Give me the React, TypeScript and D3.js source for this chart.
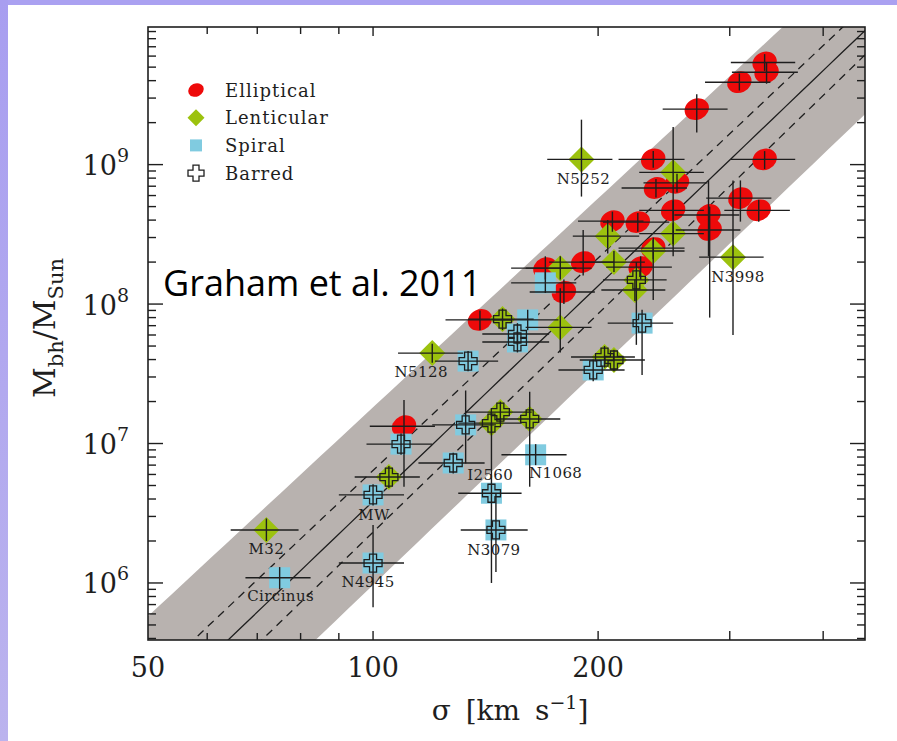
import React from 'react';
import * as d3 from 'd3';

const WIDTH = 897;
const HEIGHT = 741;

// Each galaxy: [sigma (km/s), sigma error, M_bh, M_bh lower, M_bh upper, barred, name]
type Galaxy = [number, number, number, number, number, boolean, string];

const ellipticals: Galaxy[] = [
  [334, 33, 5.4e9, 4.7e9, 6.2e9, false, ''],
  [336, 34, 4.6e9, 3.8e9, 5.4e9, false, ''],
  [309, 31, 3.9e9, 3.4e9, 4.5e9, false, ''],
  [271, 27, 2.5e9, 1.7e9, 3.2e9, false, ''],
  [237, 24, 1.09e9, 0.95e9, 1.25e9, false, ''],
  [334, 33, 1.09e9, 0.93e9, 1.25e9, false, ''],
  [255, 25, 7.4e8, 6.3e8, 8.6e8, false, ''],
  [239, 24, 6.8e8, 5.8e8, 7.9e8, false, ''],
  [252, 25, 4.7e8, 4.0e8, 5.5e8, false, ''],
  [310, 31, 5.75e8, 3.9e8, 7.7e8, false, ''],
  [328, 33, 4.7e8, 3.9e8, 5.6e8, false, ''],
  [281, 28, 4.35e8, 2.2e8, 7.7e8, false, ''],
  [282, 28, 3.4e8, 0.8e8, 5.0e8, false, ''],
  [209, 21, 3.93e8, 3.3e8, 4.6e8, false, ''],
  [226, 23, 3.87e8, 3.3e8, 4.5e8, false, ''],
  [237, 24, 2.52e8, 2.1e8, 3.0e8, false, ''],
  [228, 23, 1.84e8, 1.5e8, 2.2e8, false, ''],
  [191, 19, 2.0e8, 1.6e8, 3.4e8, false, ''],
  [170, 17, 1.81e8, 1.5e8, 2.2e8, false, ''],
  [180, 18, 1.22e8, 1.0e8, 1.5e8, false, ''],
  [139, 14, 7.7e7, 6.5e7, 9.0e7, false, ''],
  [110, 11, 1.33e7, 4.9e6, 2.05e7, false, ''],
];

const lenticulars: Galaxy[] = [
  [72, 7.5, 2.4e6, 2.0e6, 2.9e6, false, 'M32'],
  [120, 12, 4.45e7, 3.8e7, 5.2e7, false, 'N5128'],
  [190, 19, 1.09e9, 5.9e8, 2.1e9, false, 'N5252'],
  [303, 30, 2.17e8, 6.0e7, 7.7e8, false, 'N3998'],
  [252, 25, 8.8e8, 2.2e8, 1.86e9, false, ''],
  [252, 25, 3.2e8, 2.7e8, 3.8e8, false, ''],
  [206, 21, 3.07e8, 2.3e8, 4.0e8, false, ''],
  [210, 21, 2.0e8, 1.7e8, 2.4e8, false, ''],
  [237, 24, 2.4e8, 1.07e8, 2.9e8, false, ''],
  [224, 22, 1.26e8, 1.05e8, 1.5e8, false, ''],
  [225, 22, 1.49e8, 5.1e7, 2.0e8, true, ''],
  [178, 18, 1.81e8, 1.5e8, 2.2e8, false, ''],
  [178, 18, 6.8e7, 4.5e7, 1.3e8, false, ''],
  [149, 15, 7.8e7, 6.5e7, 9.3e7, true, ''],
  [105, 10.5, 5.75e6, 4.8e6, 6.9e6, true, ''],
  [148, 15, 1.68e7, 1.4e7, 2.0e7, true, ''],
  [144, 14, 1.4e7, 1.17e7, 1.68e7, true, ''],
  [162, 16, 1.5e7, 4.9e6, 2.35e7, true, ''],
  [204, 20, 4.17e7, 3.5e7, 5.0e7, true, ''],
  [210, 21, 3.97e7, 3.3e7, 4.7e7, true, ''],
];

const spirals: Galaxy[] = [
  [75, 7.5, 1.09e6, 0.9e6, 1.3e6, false, 'Circinus'],
  [100, 10, 1.39e6, 6.7e5, 2.6e6, true, 'N4945'],
  [100, 10, 4.28e6, 3.6e6, 5.1e6, true, 'MW'],
  [109, 11, 9.9e6, 8.3e6, 1.18e7, true, ''],
  [128, 13, 7.25e6, 6.1e6, 8.6e6, true, 'I2560'],
  [133, 13, 1.36e7, 7.2e6, 2.4e7, true, ''],
  [165, 16.5, 8.3e6, 7.0e6, 9.9e6, false, 'N1068'],
  [144, 14, 4.4e6, 1.0e6, 1.4e7, true, ''],
  [146, 15, 2.4e6, 1.2e6, 4.4e6, true, 'N3079'],
  [134, 13, 3.9e7, 3.3e7, 4.6e7, true, ''],
  [161, 16, 7.7e7, 6.5e7, 9.1e7, false, ''],
  [156, 16, 6.1e7, 5.1e7, 7.3e7, true, ''],
  [156, 16, 5.35e7, 4.5e7, 6.4e7, true, ''],
  [170, 17, 1.42e8, 1.2e8, 1.7e8, false, ''],
  [229, 23, 7.3e7, 3.1e7, 9.1e7, true, ''],
  [197, 20, 3.37e7, 2.8e7, 4.0e7, true, ''],
];

// M-sigma relation: log M = a + b log(sigma / 200)
const fitLine = { a: 8.13, b: 5.13 };
const fitErrLines = [
  { a: 8.33, b: 5.06 },
  { a: 7.93, b: 5.2 },
];
const scatterUpper = { a: 8.758, b: 4.977 };
const scatterLower = { a: 7.53, b: 5.13 };

const xMinorTicks = [60, 70, 80, 90];
const xMajorTicks = [100, 200, 300, 400];
const xTickLabels = [50, 100, 200];
const yDecades = [6, 7, 8, 9];

const legendItems = ['Elliptical', 'Lenticular', 'Spiral', 'Barred'];

const COLORS = {
  elliptical: '#ee0a0a',
  lenticular: '#9cc20e',
  spiral: '#80cbe0',
  band: '#b8b2af',
  ink: '#1e1e1e',
};

const labelOffsets: Record<string, [number, number]> = {
  M32: [0, 24],
  N5128: [-11, 24],
  N5252: [2, 25],
  N3998: [5, 25],
  Circinus: [1, 23],
  N4945: [-5, 24],
  MW: [1, 25],
  I2560: [37, 17],
  N1068: [20, 23],
  N3079: [-2, 25],
};

const plot = { left: 148, right: 865, top: 27, bottom: 640 };

const x = d3.scaleLog().domain([50, 455]).range([plot.left, plot.right]);
const y = d3.scaleLog().domain([3.9e5, 9.7e9]).range([plot.bottom, plot.top]);

const relation = (r: { a: number; b: number }) => (s: number) =>
  Math.pow(10, r.a + r.b * Math.log10(s / 200));

const sigmaSamples = d3.range(0, 61).map((i) => 40 * Math.pow(500 / 40, i / 60));

const linePath = d3
  .line<number>()
  .x((s) => x(s))
  .y((s) => y(relation(fitLine)(s)));

function crossPath(a: number, b: number) {
  return `M${-b},${-a}L${b},${-a}L${b},${-b}L${a},${-b}L${a},${b}L${b},${b}L${b},${a}L${-b},${a}L${-b},${b}L${-a},${b}L${-a},${-b}L${-b},${-b}Z`;
}

const serif = '"DejaVu Serif", serif';

export default function App() {
  const upperF = relation(scatterUpper);
  const lowerF = relation(scatterLower);
  const bandPts = [
    ...sigmaSamples.map((s) => [x(s), y(upperF(s))]),
    ...sigmaSamples
      .slice()
      .reverse()
      .map((s) => [x(s), y(lowerF(s))]),
  ];
  const bandPath = 'M' + bandPts.map((p) => p.join(',')).join('L') + 'Z';

  const errLinePaths = fitErrLines.map((r) =>
    d3
      .line<number>()
      .x((s) => x(s))
      .y((s) => y(relation(r)(s)))(sigmaSamples)
  );

  const all: { g: Galaxy; type: string }[] = [
    ...ellipticals.map((g) => ({ g, type: 'E' })),
    ...lenticulars.map((g) => ({ g, type: 'L' })),
    ...spirals.map((g) => ({ g, type: 'S' })),
  ];

  const marker = (type: string, cx: number, cy: number, key: string) => {
    if (type === 'E')
      return (
        <ellipse
          key={key}
          cx={cx}
          cy={cy}
          rx={12.5}
          ry={10.5}
          transform={`rotate(-25 ${cx} ${cy})`}
          fill={COLORS.elliptical}
        />
      );
    if (type === 'L')
      return (
        <path
          key={key}
          d={`M${cx},${cy - 13}L${cx + 13},${cy}L${cx},${cy + 13}L${cx - 13},${cy}Z`}
          fill={COLORS.lenticular}
        />
      );
    return <rect key={key} x={cx - 10.5} y={cy - 10.5} width={21} height={21} fill={COLORS.spiral} />;
  };

  // y ticks
  const yMajor = yDecades.map((d) => Math.pow(10, d));
  const yMinor: number[] = [];
  for (let d = 5; d <= 9; d++)
    for (let k = 2; k <= 9; k++) {
      const v = k * Math.pow(10, d);
      if (v > 3.9e5 && v < 9.7e9) yMinor.push(v);
    }

  return (
    <svg
      width={WIDTH}
      height={HEIGHT}
      style={{ position: 'absolute', left: 0, top: 0, display: 'block', background: '#fff' }}
    >
      <defs>
        <linearGradient id="sideBand" x1="0" y1="0" x2="0" y2="1">
          <stop offset="0" stopColor="#a89ef0" />
          <stop offset="1" stopColor="#bbb3ee" />
        </linearGradient>
        <clipPath id="plotClip">
          <rect x={plot.left} y={plot.top} width={plot.right - plot.left} height={plot.bottom - plot.top} />
        </clipPath>
      </defs>
      <rect x={0} y={0} width={WIDTH} height={HEIGHT} fill="#fff" />
      <rect x={0} y={0} width={WIDTH} height={5} fill="#aaa1f1" />
      <rect x={0} y={0} width={8} height={HEIGHT} fill="url(#sideBand)" />

      <g clipPath="url(#plotClip)">
        <path d={bandPath} fill={COLORS.band} />
        <path d={linePath(sigmaSamples) || ''} fill="none" stroke={COLORS.ink} strokeWidth={1.3} />
        {errLinePaths.map((d, i) => (
          <path key={i} d={d || ''} fill="none" stroke={COLORS.ink} strokeWidth={1.3} strokeDasharray="8 6" />
        ))}

        {all.map(({ g, type }, i) => marker(type, x(g[0]), y(g[2]), 'm' + i))}

        {all.map(({ g }, i) => {
          const cx = x(g[0]);
          const cy = y(g[2]);
          return (
            <g key={'e' + i} stroke={COLORS.ink} strokeWidth={1.4}>
              <line x1={x(g[0] - g[1])} x2={x(g[0] + g[1])} y1={cy} y2={cy} />
              <line x1={cx} x2={cx} y1={y(g[3])} y2={y(g[4])} />
            </g>
          );
        })}

        {all
          .filter(({ g }) => g[5])
          .map(({ g }, i) => (
            <path
              key={'c' + i}
              d={crossPath(9, 3.5)}
              transform={`translate(${x(g[0])},${y(g[2])})`}
              fill="none"
              stroke={COLORS.ink}
              strokeWidth={1.3}
            />
          ))}
      </g>

      {/* galaxy names */}
      {all
        .filter(({ g }) => g[6])
        .map(({ g }, i) => {
          const off = labelOffsets[g[6]] || [0, 24];
          return (
            <text
              key={'l' + i}
              x={x(g[0]) + off[0]}
              y={y(g[2]) + off[1]}
              textAnchor="middle"
              fontFamily={serif}
              fontSize={15}
              letterSpacing={0.4}
              fill={COLORS.ink}
            >
              {g[6]}
            </text>
          );
        })}

      {/* frame */}
      <rect
        x={plot.left}
        y={plot.top}
        width={plot.right - plot.left}
        height={plot.bottom - plot.top}
        fill="none"
        stroke={COLORS.ink}
        strokeWidth={1.6}
      />

      {/* x ticks */}
      {[...xMinorTicks, ...xMajorTicks].map((v, i) => {
        const len = xMajorTicks.includes(v) ? 9 : 7;
        return (
          <g key={'xt' + i} stroke={COLORS.ink} strokeWidth={1.4}>
            <line x1={x(v)} x2={x(v)} y1={plot.bottom} y2={plot.bottom - len} />
            <line x1={x(v)} x2={x(v)} y1={plot.top} y2={plot.top + len} />
          </g>
        );
      })}
      {xTickLabels.map((v) => (
        <text
          key={'xl' + v}
          x={x(v)}
          y={677}
          textAnchor="middle"
          fontFamily={serif}
          fontSize={27}
          fill={COLORS.ink}
        >
          {v}
        </text>
      ))}

      {/* y ticks */}
      {yMajor.map((v, i) => (
        <g key={'ym' + i} stroke={COLORS.ink} strokeWidth={1.4}>
          <line x1={plot.left} x2={plot.left + 15} y1={y(v)} y2={y(v)} />
          <line x1={plot.right} x2={plot.right - 15} y1={y(v)} y2={y(v)} />
        </g>
      ))}
      {yMinor.map((v, i) => (
        <g key={'yn' + i} stroke={COLORS.ink} strokeWidth={1.4}>
          <line x1={plot.left} x2={plot.left + 8} y1={y(v)} y2={y(v)} />
          <line x1={plot.right} x2={plot.right - 8} y1={y(v)} y2={y(v)} />
        </g>
      ))}
      {yDecades.map((d) => (
        <text
          key={'yl' + d}
          x={129}
          y={y(Math.pow(10, d)) + 10.5}
          textAnchor="end"
          fontFamily={serif}
          fontSize={27}
          fill={COLORS.ink}
        >
          10
          <tspan dy={-13} fontSize={19}>
            {d}
          </tspan>
        </text>
      ))}

      {/* axis titles */}
      <text
        x={510}
        y={720}
        textAnchor="middle"
        fontFamily={serif}
        fontSize={28}
        wordSpacing={6}
        fill={COLORS.ink}
      >
        σ [km s
        <tspan dy={-11} fontSize={19}>
          −1
        </tspan>
        <tspan dy={11}>]</tspan>
      </text>
      <text
        transform="translate(55,328) rotate(-90)"
        textAnchor="middle"
        fontFamily={serif}
        fontSize={30}
        fill={COLORS.ink}
      >
        M
        <tspan dy={8} fontSize={21}>
          bh
        </tspan>
        <tspan dy={-8}>/M</tspan>
        <tspan dy={8} fontSize={21}>
          Sun
        </tspan>
      </text>

      {/* legend */}
      {legendItems.map((name, i) => {
        const ly = 90 + i * 27.7;
        const lx = 196;
        let m: React.ReactNode = null;
        if (i === 0)
          m = <ellipse cx={lx} cy={ly} rx={8} ry={6.5} transform={`rotate(-25 ${lx} ${ly})`} fill={COLORS.elliptical} />;
        else if (i === 1)
          m = <path d={`M${lx},${ly - 8.5}L${lx + 8.5},${ly}L${lx},${ly + 8.5}L${lx - 8.5},${ly}Z`} fill={COLORS.lenticular} />;
        else if (i === 2) m = <rect x={lx - 6} y={ly - 6} width={12} height={12} fill={COLORS.spiral} />;
        else
          m = (
            <path
              d={crossPath(8, 3)}
              transform={`translate(${lx},${ly})`}
              fill="#fff"
              stroke={COLORS.ink}
              strokeWidth={1.3}
            />
          );
        return (
          <g key={name}>
            {m}
            <text x={225} y={ly + 6.5} fontFamily={serif} fontSize={18} letterSpacing={1} fill={COLORS.ink}>
              {name}
            </text>
          </g>
        );
      })}

      <text x={163} y={296} fontFamily='"Open Sans", sans-serif' fontSize={36} fill="#000">
        Graham et al. 2011
      </text>
    </svg>
  );
}
